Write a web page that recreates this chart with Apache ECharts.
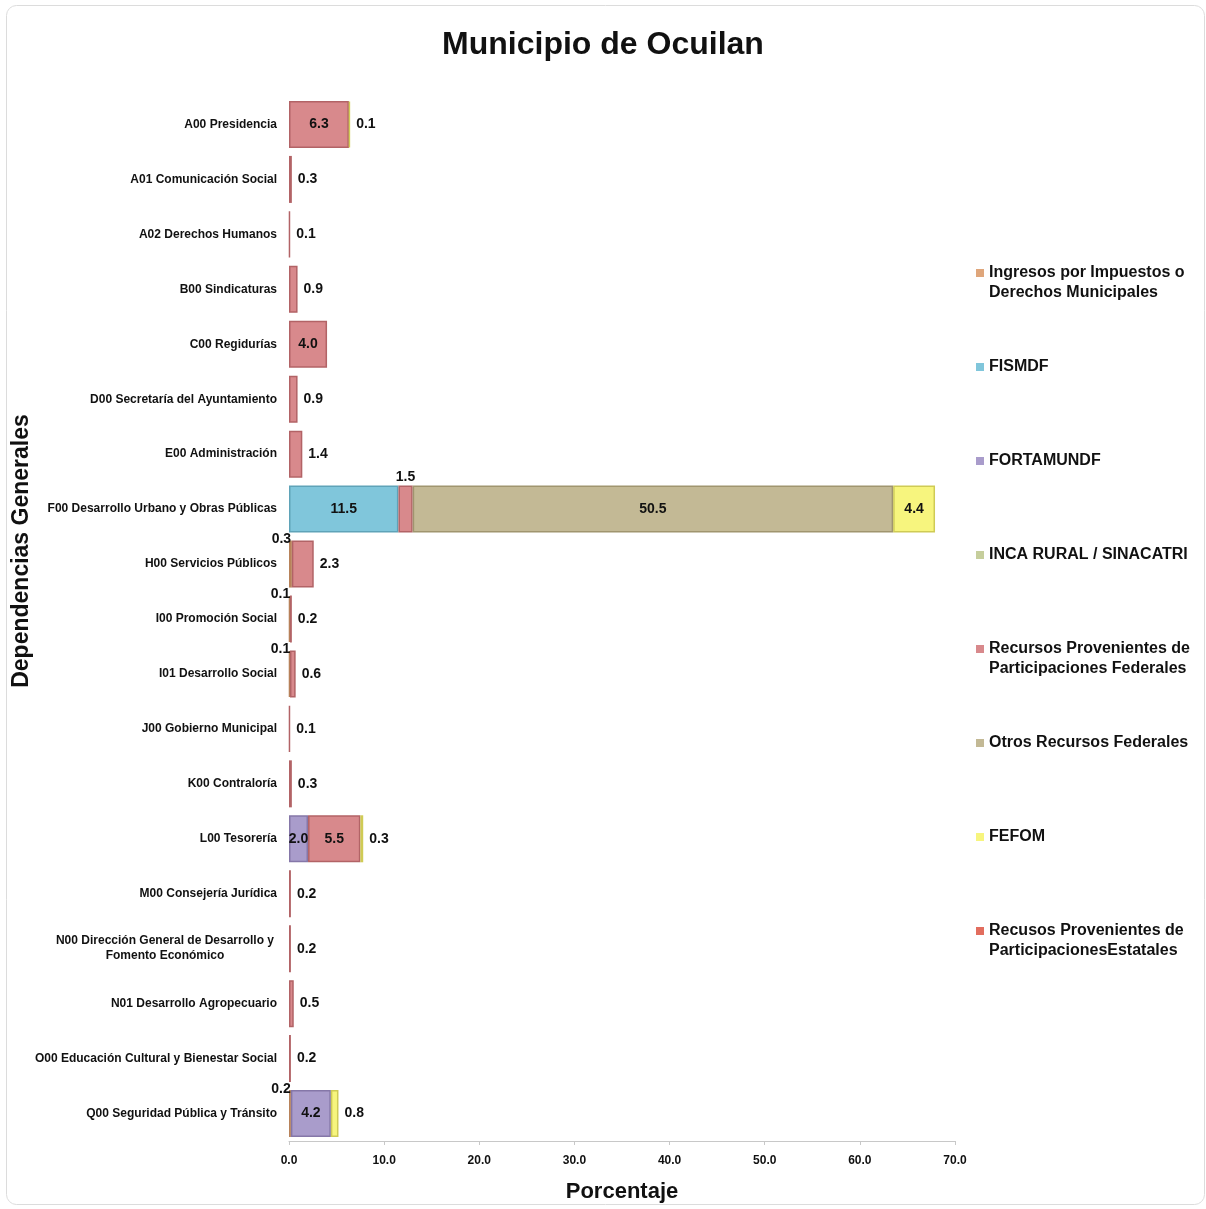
<!DOCTYPE html>
<html>
<head>
<meta charset="UTF-8">
<title>Municipio de Ocuilan</title>
<script src="https://cdn.jsdelivr.net/npm/echarts@6/dist/echarts.min.js"></script>
<style>
  html, body { margin: 0; padding: 0; background: #fff; }
  #myChart { width: 1206px; height: 1209px; }
</style>
</head>
<body>
<div id="myChart"></div>
<script>
// categories, top to bottom
var categories = [
  'A00 Presidencia',
  'A01 Comunicación Social',
  'A02 Derechos Humanos',
  'B00 Sindicaturas',
  'C00 Regidurías',
  'D00 Secretaría del Ayuntamiento',
  'E00 Administración',
  'F00 Desarrollo Urbano y Obras Públicas',
  'H00 Servicios Públicos',
  'I00 Promoción Social',
  'I01 Desarrollo Social',
  'J00 Gobierno Municipal',
  'K00 Contraloría',
  'L00 Tesorería',
  'M00 Consejería Jurídica',
  'N00 Dirección General de Desarrollo y\nFomento Económico',
  'N01 Desarrollo Agropecuario',
  'O00 Educación Cultural y Bienestar Social',
  'Q00 Seguridad Pública y Tránsito'
];

var seriesNames = [
  'Ingresos por Impuestos o Derechos Municipales',
  'FISMDF',
  'FORTAMUNDF',
  'INCA RURAL / SINACATRI',
  'Recursos Provenientes de Participaciones Federales',
  'Otros Recursos Federales',
  'FEFOM',
  'Recusos Provenientes de ParticipacionesEstatales'
];

var legendLabels = [
  'Ingresos por Impuestos o\nDerechos Municipales',
  'FISMDF',
  'FORTAMUNDF',
  'INCA RURAL / SINACATRI',
  'Recursos Provenientes de\nParticipaciones Federales',
  'Otros Recursos Federales',
  'FEFOM',
  'Recusos Provenientes de\nParticipacionesEstatales'
];

//                 A00  A01  A02  B00  C00  D00  E00  F00   H00  I00  I01  J00  K00  L00  M00  N00  N01  O00  Q00
var ingresos    = [null,null,null,null,null,null,null,null, 0.3, 0.1, 0.1, null,null,null,null,null,null,null,0.2];
var fismdf      = [null,null,null,null,null,null,null,11.5, null,null,null,null,null,null,null,null,null,null,null];
var fortamundf  = [null,null,null,null,null,null,null,null, null,null,null,null,null,2.0, null,null,null,null,4.2];
var incaRural   = [null,null,null,null,null,null,null,null, null,null,null,null,null,null,null,null,null,null,null];
var partFed     = [6.3, 0.3, 0.1, 0.9, 4.0, 0.9, 1.4, 1.5,  2.3, 0.2, 0.6, 0.1, 0.3, 5.5, 0.2, 0.2, 0.5, 0.2, null];
var otrosFed    = [null,null,null,null,null,null,null,50.5, null,null,null,null,null,null,null,null,null,null,null];
var fefom       = [0.1, null,null,null,null,null,null,4.4,  null,null,null,null,null,0.3, null,null,null,null,0.8];
var partEst     = [null,null,null,null,null,null,null,null, null,null,null,null,null,null,null,null,null,null,null];

var xTicks = [0, 10, 20, 30, 40, 50, 60, 70];

var seriesData = [ingresos, fismdf, fortamundf, incaRural, partFed, otrosFed, fefom, partEst];
var colors = ['#DFA67B', '#80C6DB', '#A99CCB', '#C6CE9C', '#D8898C', '#C3B995', '#F7F57E', '#E26D5E'];
var borders = ['#B8835A', '#5FA3B8', '#8577A8', '#A2AA78', '#B26366', '#A0956F', '#CFCB55', '#B94C3F'];

var myChart = echarts.init(document.getElementById('myChart'));

function lastIndex(c) {
  var last = -1;
  for (var s = 0; s < seriesData.length; s++) {
    if (seriesData[s][c] != null) last = s;
  }
  return last;
}

// where Excel put each value label
function labelFor(s, c, v) {
  var base = { show: true, color: '#111', fontWeight: 'bold', fontSize: 14,
    fontFamily: 'Liberation Sans, Arial, sans-serif',
    formatter: function(p) { return p.value.toFixed(1); } };
  if (v >= 4) {
    base.position = 'inside';
  } else if (lastIndex(c) === s) {
    base.position = 'right';
    base.distance = 6;
  } else if (v >= 2) {
    base.position = 'inside';
  } else {
    base.position = 'top';
    base.distance = 1;
    if (s === 0) base.offset = [-9, 7];
  }
  return base;
}

var series = seriesNames.map(function(name, s) {
  return {
    name: name,
    type: 'bar',
    stack: 'total',
    barWidth: 47,
    itemStyle: { color: colors[s], borderColor: borders[s], borderWidth: 1.5 },
    emphasis: { disabled: true },
    data: seriesData[s].map(function(v, c) {
      if (v == null) return null;
      return { value: v, label: labelFor(s, c, v) };
    })
  };
});

// one legend per item so the first text line sits on a fixed 94px step
var legends = seriesNames.map(function(name, i) {
  var twoLines = legendLabels[i].indexOf('\n') >= 0;
  return {
    orient: 'vertical',
    left: 976,
    top: 263 + i * 94 - (twoLines ? 20 : 0),
    padding: 0,
    itemWidth: 8,
    itemHeight: 8,
    icon: 'rect',
    itemStyle: { borderWidth: 0 },
    selectedMode: false,
    data: [name],
    // leading blank line keeps the marker beside the first line
    formatter: function() { return twoLines ? '\n' + legendLabels[i] : legendLabels[i]; },
    textStyle: {
      color: '#111',
      fontSize: 16,
      fontWeight: 'bold',
      lineHeight: 20,
      fontFamily: 'Liberation Sans, Arial, sans-serif'
    }
  };
});

myChart.setOption({
  animation: false,
  textStyle: { fontFamily: 'Liberation Sans, Arial, sans-serif' },
  title: {
    text: 'Municipio de Ocuilan',
    left: 'center',
    top: 24,
    textStyle: { fontSize: 32, fontWeight: 'bold', color: '#111' }
  },
  legend: legends,
  grid: { left: 289, right: 251, top: 97, bottom: 68, outerBoundsMode: 'none' },
  xAxis: {
    type: 'value',
    min: 0,
    max: 70,
    interval: 10,
    name: 'Porcentaje',
    nameLocation: 'middle',
    nameGap: 40,
    nameTextStyle: { fontSize: 22, fontWeight: 'bold', color: '#111' },
    axisLine: { show: true, lineStyle: { color: '#c8c8c8' } },
    axisTick: { show: true, length: 4, lineStyle: { color: '#c8c8c8' } },
    splitLine: { show: false },
    axisLabel: {
      color: '#111', fontSize: 12, fontWeight: 'bold', margin: 14,
      formatter: function(v) { return xTicks.indexOf(v) >= 0 ? v.toFixed(1) : ''; }
    }
  },
  yAxis: {
    type: 'category',
    inverse: true,
    data: categories,
    name: 'Dependencias Generales',
    nameLocation: 'middle',
    nameGap: 256,
    nameMoveOverlap: false,
    nameTextStyle: { fontSize: 23, fontWeight: 'bold', color: '#111', padding: [0, 0, 0, 136] },
    axisLine: { show: false },
    axisTick: { show: false },
    axisLabel: {
      color: '#111', fontSize: 12, fontWeight: 'bold', margin: 12,
      formatter: function(v) {
        if (v.indexOf('\n') < 0) return v;
        return v.split('\n').map(function(t) { return '{c|' + t + '}'; }).join('\n');
      },
      rich: {
        c: { width: 224, align: 'center', fontSize: 12, fontWeight: 'bold', color: '#111', lineHeight: 15 }
      }
    }
  },
  graphic: [{
    type: 'rect',
    silent: true,
    shape: { x: 6.5, y: 5.5, width: 1198, height: 1199, r: 10 },
    style: { fill: 'none', stroke: '#dcdcdc', lineWidth: 1 }
  }],
  series: series
});
</script>
</body>
</html>
